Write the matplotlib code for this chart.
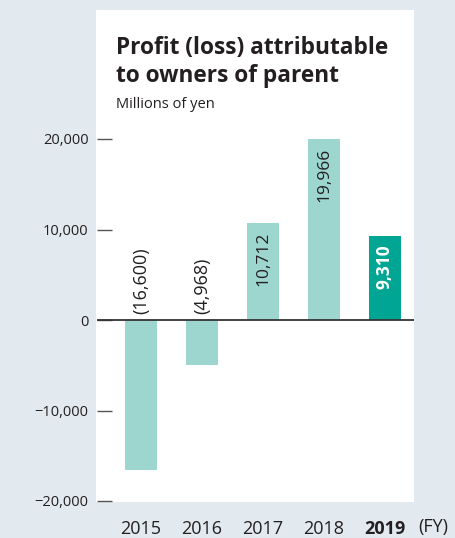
import matplotlib
matplotlib.use("Agg")
import matplotlib.pyplot as plt
from matplotlib.patches import Rectangle

years = ["2015", "2016", "2017", "2018", "2019"]
values = [-16600, -4968, 10712, 19966, 9310]
labels = ["(16,600)", "(4,968)", "10,712", "19,966", "9,310"]
yticks = [-20000, -10000, 0, 10000, 20000]
ytick_labels = ["\u221220,000", "\u221210,000", "0", "10,000", "20,000"]

W, H = 456, 538
plt.rcParams['font.family'] = ['Open Sans', 'DejaVu Sans']
fig = plt.figure(figsize=(W/100, H/100), dpi=100)
fig.patch.set_facecolor("#e2eaf0")

def fx(px): return px / W
def fy(py): return 1 - py / H

# white panel
fig.patches.append(Rectangle((fx(96), fy(502)), fx(414) - fx(96), fy(10) - fy(502),
                             transform=fig.transFigure, facecolor="white", edgecolor="none", zorder=-5))

ax = fig.add_axes([fx(97), fy(501), fx(414) - fx(97), fy(139) - fy(501)])
ax.set_zorder(2)
ax.set_facecolor("none")
ax.set_ylim(-20000, 20000)
ax.set_xlim((97 - 141) / 61, (414 - 141) / 61)

light = "#9dd6cf"
dark = "#00a594"
txt = "#231f20"
x = list(range(len(years)))
colors = [light] * 4 + [dark]
ax.bar(x, values, width=0.51, color=colors, zorder=2, clip_on=False)
ax.axhline(0, color="#333333", lw=1.3, zorder=3)

for i, (v, lab) in enumerate(zip(values, labels)):
    if v < 0:
        ax.annotate(lab, (i, 0), xytext=(0, 4), textcoords="offset points",
                    rotation=90, ha="center", va="bottom", fontsize=13, color=txt)
    else:
        last = i == len(values) - 1
        ax.annotate(lab, (i, v), xytext=(0, -6), textcoords="offset points",
                    rotation=90, ha="center", va="top", fontsize=12.5,
                    color="white" if last else txt,
                    fontweight="bold" if last else "normal")

for s in ax.spines.values():
    s.set_visible(False)
ax.set_yticks(yticks)
ax.set_yticklabels(ytick_labels, fontsize=10.5, color=txt)
ax.tick_params(axis="y", direction="in", length=10.5, width=1, color="#555555", pad=6)
ax.set_xticks(x)
ax.set_xticklabels(years, fontsize=13, color=txt)
ax.tick_params(axis="x", length=0, pad=14)
ax.get_xticklabels()[-1].set_fontweight("bold")
fig.text(fx(433), fy(527), "(FY)", fontsize=13, color=txt, ha="center", va="center")

fig.text(fx(116), fy(54), "Profit (loss) attributable", fontsize=16.3,
         fontweight="bold", color=txt, ha="left", va="baseline")
fig.text(fx(116), fy(82), "to owners of parent", fontsize=16.3,
         fontweight="bold", color=txt, ha="left", va="baseline")
fig.text(fx(116), fy(108), "Millions of yen", fontsize=10.5, color=txt, ha="left", va="baseline")

fig.savefig("out.png", dpi=100, facecolor=fig.get_facecolor())
